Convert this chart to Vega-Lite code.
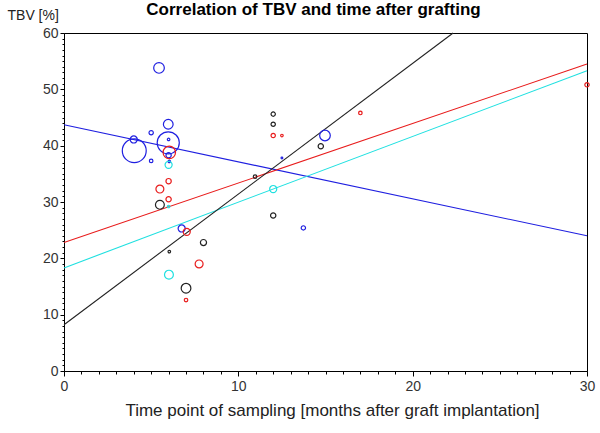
{
  "$schema": "https://vega.github.io/schema/vega-lite/v6.json",
  "width": 523,
  "height": 338,
  "autosize": "none",
  "padding": {"left": 64, "top": 33, "right": 13, "bottom": 62},
  "background": "white",
  "title": {
    "text": "Correlation of TBV and time after grafting",
    "font": "Liberation Sans",
    "fontSize": 17,
    "fontWeight": "bold",
    "color": "#000000",
    "anchor": "middle",
    "dx": -12,
    "dy": 11,
    "offset": 0
  },
  "config": {
    "view": {"stroke": "#000000", "strokeWidth": 1},
    "axis": {
      "labelFont": "Liberation Sans",
      "titleFont": "Liberation Sans",
      "labelColor": "#333333",
      "titleColor": "#222222",
      "domainColor": "#000000",
      "tickColor": "#000000",
      "grid": false,
      "labelOverlap": false
    }
  },
  "datasets": {
    "points": [
      {"series": "blue", "month": 5.45, "tbv": 53.8, "m": 36},
      {"series": "blue", "month": 4.03, "tbv": 39.1, "m": 182},
      {"series": "blue", "month": 4.0, "tbv": 41.1, "m": 16},
      {"series": "blue", "month": 5.0, "tbv": 42.3, "m": 6},
      {"series": "blue", "month": 5.98, "tbv": 43.8, "m": 30},
      {"series": "blue", "month": 5.98, "tbv": 40.5, "m": 156},
      {"series": "blue", "month": 6.0, "tbv": 41.1, "m": 2},
      {"series": "blue", "month": 6.0, "tbv": 38.3, "m": 9},
      {"series": "blue", "month": 6.04, "tbv": 37.2, "m": 2},
      {"series": "blue", "month": 5.0, "tbv": 37.3, "m": 4},
      {"series": "blue", "month": 6.75, "tbv": 25.3, "m": 16},
      {"series": "blue", "month": 14.97, "tbv": 41.8, "m": 36},
      {"series": "blue", "month": 12.5, "tbv": 37.8, "m": 1},
      {"series": "blue", "month": 13.73, "tbv": 25.4, "m": 6},
      {"series": "red", "month": 6.04, "tbv": 38.8, "m": 49},
      {"series": "red", "month": 6.0, "tbv": 33.7, "m": 9},
      {"series": "red", "month": 5.5, "tbv": 32.3, "m": 20},
      {"series": "red", "month": 6.0, "tbv": 30.5, "m": 9},
      {"series": "red", "month": 7.04, "tbv": 24.7, "m": 16},
      {"series": "red", "month": 7.75, "tbv": 19.0, "m": 20},
      {"series": "red", "month": 7.0, "tbv": 12.6, "m": 4},
      {"series": "red", "month": 12.0, "tbv": 41.8, "m": 6},
      {"series": "red", "month": 12.5, "tbv": 41.8, "m": 2},
      {"series": "red", "month": 17.0, "tbv": 45.8, "m": 4},
      {"series": "red", "month": 30.0, "tbv": 50.8, "m": 6},
      {"series": "black", "month": 5.5, "tbv": 29.5, "m": 25},
      {"series": "black", "month": 8.0, "tbv": 22.8, "m": 12},
      {"series": "black", "month": 6.04, "tbv": 21.2, "m": 2},
      {"series": "black", "month": 7.0, "tbv": 14.7, "m": 30},
      {"series": "black", "month": 12.0, "tbv": 45.6, "m": 6},
      {"series": "black", "month": 12.0, "tbv": 43.8, "m": 6},
      {"series": "black", "month": 14.73, "tbv": 39.9, "m": 9},
      {"series": "black", "month": 10.96, "tbv": 34.5, "m": 4},
      {"series": "black", "month": 12.0, "tbv": 27.6, "m": 9},
      {"series": "cyan", "month": 6.0, "tbv": 36.6, "m": 16},
      {"series": "cyan", "month": 6.02, "tbv": 17.1, "m": 25},
      {"series": "cyan", "month": 12.0, "tbv": 32.3, "m": 16},
      {"series": "cyan", "month": 6.0, "tbv": 29.2, "m": 2}
    ],
    "lines": [
      {"series": "blue", "month": 0, "tbv": 43.7},
      {"series": "blue", "month": 30, "tbv": 24.0},
      {"series": "red", "month": 0, "tbv": 22.8},
      {"series": "red", "month": 30, "tbv": 54.5},
      {"series": "cyan", "month": 0, "tbv": 18.3},
      {"series": "cyan", "month": 30, "tbv": 53.3},
      {"series": "black", "month": 0, "tbv": 8.2},
      {"series": "black", "month": 22.32, "tbv": 60}
    ]
  },
  "encoding": {
    "x": {
      "field": "month",
      "type": "quantitative",
      "scale": {"domain": [0, 30], "nice": false},
      "axis": {
        "title": "Time point of sampling [months after graft implantation]",
        "titleFontSize": 17,
        "titleFontWeight": "normal",
        "titlePadding": 9,
        "titleX": 268,
        "values": [0,1,2,3,4,5,6,7,8,9,10,11,12,13,14,15,16,17,18,19,20,21,22,23,24,25,26,27,28,29,30],
        "labelExpr": "datum.value % 10 === 0 ? datum.label : ''",
        "labelFontSize": 14,
        "labelPadding": 3,
        "labelFlush": false,
        "tickSize": {"condition": {"test": "datum.value % 10 === 0", "value": 5}, "value": 3}
      }
    },
    "y": {
      "field": "tbv",
      "type": "quantitative",
      "scale": {"domain": [0, 60], "nice": false},
      "axis": {
        "title": "TBV [%]",
        "titleAngle": 0,
        "titleAlign": "left",
        "titleBaseline": "alphabetic",
        "titleX": -57,
        "titleY": -14,
        "titleFontSize": 14,
        "titleFontWeight": "normal",
        "values": [0,1,2,3,4,5,6,7,8,9,10,11,12,13,14,15,16,17,18,19,20,21,22,23,24,25,26,27,28,29,30,31,32,33,34,35,36,37,38,39,40,41,42,43,44,45,46,47,48,49,50,51,52,53,54,55,56,57,58,59,60],
        "labelExpr": "datum.value % 10 === 0 ? datum.label : ''",
        "labelFontSize": 14,
        "labelPadding": 2,
        "labelFlush": false,
        "tickSize": {"condition": {"test": "datum.value % 10 === 0", "value": 4}, "value": 2}
      }
    },
    "color": {
      "field": "series",
      "type": "nominal",
      "scale": {"domain": ["blue", "red", "cyan", "black"], "range": ["#1f1fe0", "#e81c1c", "#1fe0e0", "#222222"]},
      "legend": null
    }
  },
  "layer": [
    {
      "data": {"name": "lines"},
      "mark": {"type": "line", "strokeWidth": 1.1},
      "encoding": {
        "detail": {"field": "series"}
      }
    },
    {
      "data": {"name": "points"},
      "mark": {"type": "point", "shape": "circle", "filled": false, "strokeWidth": 1.2, "opacity": 1},
      "encoding": {
        "size": {
          "field": "m",
          "type": "quantitative",
          "scale": {"domain": [0, 200], "range": [0, 628], "zero": true},
          "legend": null
        }
      }
    }
  ]
}
